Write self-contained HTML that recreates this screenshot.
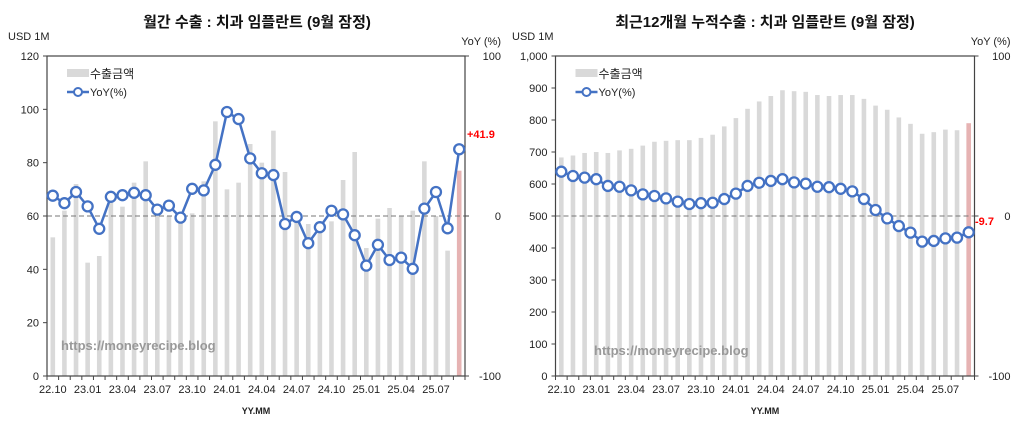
<!DOCTYPE html>
<html><head><meta charset="utf-8"><style>
html,body{margin:0;padding:0;background:#fff;}
svg text{font-family:"Liberation Sans","Noto Sans CJK KR",sans-serif;}
</style></head><body>
<svg id="s" width="1024" height="435" xmlns="http://www.w3.org/2000/svg"></svg>
<script>
const S=document.getElementById('s');let h='';
function chart(o){
 const x0=o.x0,x1=o.x1,y0=56,y1=376,n=36,sw=(x1-x0)/n;
 const vy=v=>y1-(v/o.max)*(y1-y0), py=p=>216-p*1.6;
 h+=`<text x="${o.tx}" y="27" font-size="15" font-weight="bold" text-anchor="middle" fill="#111">${o.title}</text>`;
 h+=`<text x="${o.ux}" y="40" font-size="11" fill="#222">USD 1M</text>`;
 h+=`<text x="${x1+36}" y="45" font-size="11" fill="#222" text-anchor="end">YoY (%)</text>`;
 // bars
 o.bars.forEach((v,i)=>{const c=x0+sw*(i+.5);h+=`<rect x="${c-2.3}" y="${vy(v)}" width="4.6" height="${y1-vy(v)}" fill="${i==35?'#e6b3b3':'#d9d9d9'}"/>`;});
 h+=`<line x1="${x0}" y1="216" x2="${x1}" y2="216" stroke="#777" stroke-width="1" stroke-dasharray="5,3"/>`;
 h+=`<rect x="${x0}" y="${y0}" width="${x1-x0}" height="${y1-y0}" fill="none" stroke="#444" stroke-width="1.2"/>`;
 // left ticks
 for(let k=0;k<=o.max;k+=o.step){const y=vy(k);h+=`<line x1="${x0-4}" y1="${y}" x2="${x0}" y2="${y}" stroke="#444"/><text x="${x0-8}" y="${y+4}" font-size="11" text-anchor="end" fill="#222">${o.fmt(k)}</text>`;}
 [100,0,-100].forEach(p=>{const y=py(p);h+=`<line x1="${x1}" y1="${y}" x2="${x1+4}" y2="${y}" stroke="#444"/><text x="${x1+36}" y="${y+4}" font-size="11" text-anchor="end" fill="#222">${p}</text>`;});
 for(let i=0;i<=n;i++){const x=x0+sw*i;h+=`<line x1="${x}" y1="${y1}" x2="${x}" y2="${y1+4}" stroke="#444"/>`;}
 const labs=['22.10','23.01','23.04','23.07','23.10','24.01','24.04','24.07','24.10','25.01','25.04','25.07'];
 labs.forEach((l,j)=>{const x=x0+sw*(j*3+.5);h+=`<text x="${x}" y="393" font-size="11" text-anchor="middle" fill="#222">${l}</text>`;});
 h+=`<text x="${(x0+x1)/2}" y="414" font-size="9" font-weight="bold" text-anchor="middle" fill="#222">YY.MM</text>`;
 // line
 const pts=o.yoy.map((p,i)=>[x0+sw*(i+.5),py(p)]);
 h+=`<polyline points="${pts.map(p=>p.join(',')).join(' ')}" fill="none" stroke="#4472c4" stroke-width="2.5"/>`;
 pts.forEach(p=>h+=`<circle cx="${p[0]}" cy="${p[1]}" r="5" fill="#fff" stroke="#4472c4" stroke-width="2.3"/>`);
 // legend
 h+=`<rect x="${x0+20}" y="69" width="22" height="8" fill="#d9d9d9"/><text x="${x0+43}" y="78" font-size="12" fill="#222">수출금액</text>`;
 h+=`<line x1="${x0+20}" y1="92" x2="${x0+42}" y2="92" stroke="#4472c4" stroke-width="2.5"/><circle cx="${x0+31}" cy="92" r="4" fill="#fff" stroke="#4472c4" stroke-width="2"/><text x="${x0+43}" y="96" font-size="11" fill="#222">YoY(%)</text>`;
 h+=`<text x="${o.wx}" y="${o.wy}" font-size="13" font-weight="bold" fill="#999">https://moneyrecipe.blog</text>`;
 h+=`<text x="${o.lx}" y="${o.ly}" font-size="11" font-weight="bold" fill="#f00">${o.last}</text>`;
}
chart({x0:47,x1:465,max:120,step:20,fmt:k=>k,tx:257,ux:8,title:'월간 수출 : 치과 임플란트 (9월 잠정)',
 bars:[52,62,72,42.5,45,65,63.5,72.5,80.5,62,60,60,61,73,95.5,70,72.5,87,80,92,76.5,58,57,56,58,73.5,84,48,59,63,60,62,80.5,60,47,77],
 yoy:[12.7,8,15,6,-8,12,13,14.5,13,4,6.5,-1,17,16,32,65,60.6,36,26.7,25.6,-5,-0.6,-17,-7,3.3,1,-12,-31,-18,-27.5,-26,-33,4.6,15,-7.7,41.7],
 wx:61,wy:350,lx:467,ly:138,last:'+41.9'});
chart({x0:555.5,x1:974.5,max:1000,step:100,fmt:k=>k>=1000?'1,000':k,tx:765,ux:512,title:'최근12개월 누적수출 : 치과 임플란트 (9월 잠정)',
 bars:[683,689,697,700,697,705,710,720,732,735,737,737,744,754,780,806,835,858,875,893,890,888,878,875,878,878,866,845,832,808,788,757,762,770,768,790],
 yoy:[27.7,25,24,23,18.8,18.3,16,13.5,12.5,11,9,7.5,8,8.3,10.6,14,18.8,20.8,21.9,23,21,20.2,18.3,18,17,15.4,10.6,3.75,-1.5,-6.3,-10.4,-16,-15.6,-14,-13.5,-10.2],
 wx:594,wy:355,lx:975,ly:225,last:'-9.7'});
S.innerHTML=h;
</script>
</body></html>
